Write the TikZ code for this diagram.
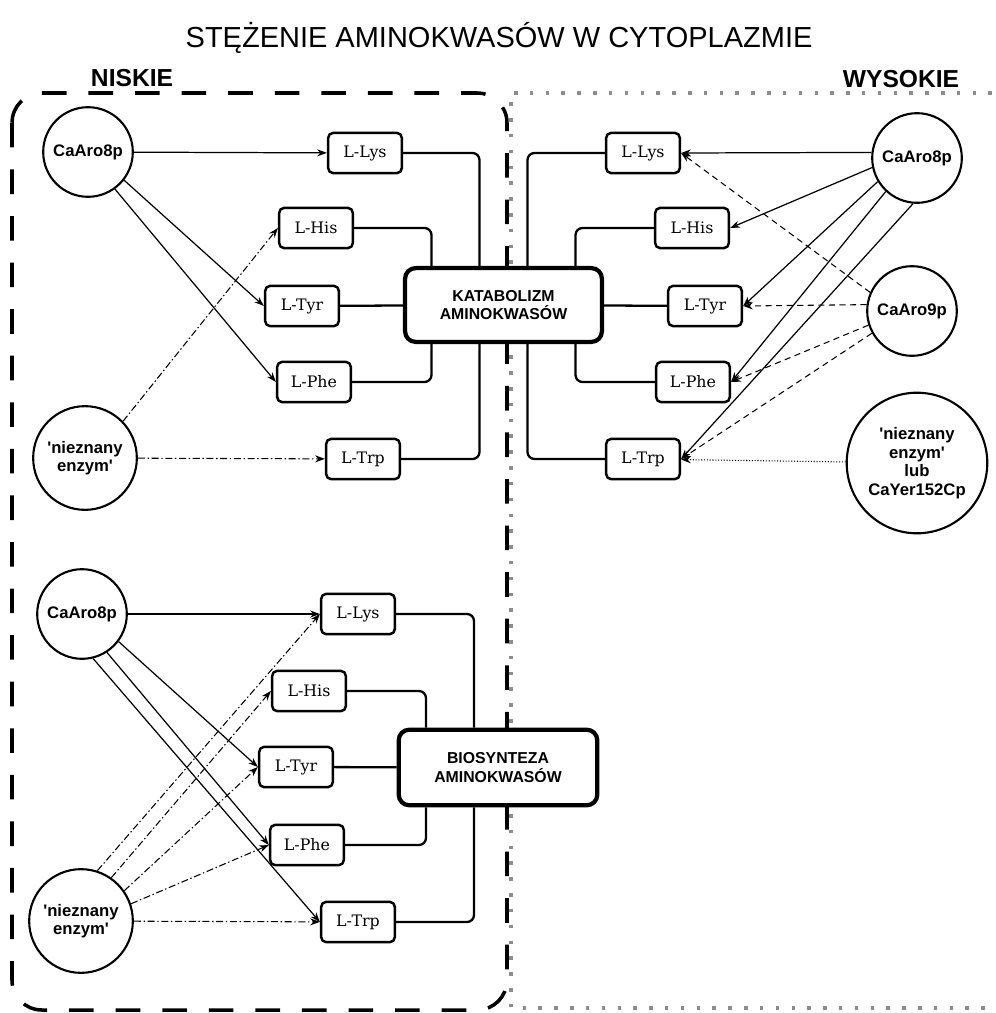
\documentclass[tikz,border=0pt]{standalone}
\usepackage{fontspec}
\setmainfont{Liberation Sans}
\newfontfamily\slabfont{DejaVu Serif}
\usepackage{tikz}
\usetikzlibrary{shapes,arrows,arrows.meta,positioning,calc}
\definecolor{dotgray}{RGB}{140,140,140}

\begin{document}
\begin{tikzpicture}[
  x=0.2mm, y=-0.2mm,
  acid/.style={rectangle, draw, fill=white, line width=1.4pt, rounded corners=3pt,
    minimum width=42pt, minimum height=23pt, inner sep=2pt,
    font=\slabfont\fontsize{9}{10}\selectfont},
  enzyme/.style={circle, draw, fill=white, line width=1.2pt, minimum size=51pt,
    inner sep=1pt, align=center, font=\bfseries\fontsize{9.5}{10.5}\selectfont},
  pathway/.style={rectangle, draw, fill=white, line width=2.4pt, rounded corners=6pt,
    minimum width=112pt, minimum height=42pt, align=center,
    font=\bfseries\fontsize{9}{10.5}\selectfont},
  link/.style={line width=1.3pt, rounded corners=4pt},
  arrow/.style={-{Stealth[length=5.5pt,width=4pt]}, line width=0.7pt},
  arrowdd/.style={arrow, line width=0.6pt, dash pattern=on 4pt off 1.5pt on 0.8pt off 1.5pt},
  arrowdash/.style={arrow, line width=0.6pt, dash pattern=on 3.5pt off 2.5pt},
  arrowdot/.style={arrow, line width=0.6pt, densely dotted},
  zonelabel/.style={font=\bfseries\fontsize{14}{16}\selectfont}
]
  \useasboundingbox (0,0) rectangle (996,1013);

  % Title and zones
  \node[font=\fontsize{16.5}{19}\selectfont] (title) at (499,38) {STĘŻENIE AMINOKWASÓW W CYTOPLAZMIE};
  \draw[dotgray, line width=2pt, dash pattern=on 2pt off 7pt]
    (992,93) -- (511,93) -- (511,1008) -- (992,1008);
  \draw[line width=2pt, dash pattern=on 14pt off 12.5pt, rounded corners=17pt]
    (12,93) rectangle (507,1010);
  \node[zonelabel] (low) at (132,78) {NISKIE};
  \node[zonelabel] (high) at (901,79) {WYSOKIE};

  % Catabolism (center)
  \node[pathway] (kat) at (503.5,305) {KATABOLIZM\\AMINOKWASÓW};

  % Low concentration -- catabolism
  \node[enzyme] (aro8a) at (88,152) {CaAro8p};
  \node[enzyme, minimum size=59pt] (unkA) at (85,458) {\textquotesingle nieznany\\enzym\textquotesingle};
  \node[acid] (lysA) at (365,153) {L-Lys};
  \node[acid] (hisA) at (316,228) {L-His};
  \node[acid] (tyrA) at (302,306) {L-Tyr};
  \node[acid] (pheA) at (314,382) {L-Phe};
  \node[acid] (trpA) at (363,459) {L-Trp};

  % High concentration -- catabolism
  \node[enzyme] (aro8b) at (917,158) {CaAro8p};
  \node[enzyme] (aro9) at (912,311) {CaAro9p};
  \node[enzyme, minimum size=80pt] (yer) at (917,463) {\textquotesingle nieznany\\enzym\textquotesingle\\lub\\CaYer152Cp};
  \node[acid] (lysB) at (643,153) {L-Lys};
  \node[acid] (hisB) at (692,228) {L-His};
  \node[acid] (tyrB) at (705,306) {L-Tyr};
  \node[acid] (pheB) at (693,382) {L-Phe};
  \node[acid] (trpB) at (643,459) {L-Trp};

  % Low concentration -- biosynthesis
  \node[pathway, minimum width=113pt, minimum height=43pt] (bio) at (498,767.5) {BIOSYNTEZA\\AMINOKWASÓW};
  \node[enzyme] (aro8c) at (82,614) {CaAro8p};
  \node[enzyme, minimum size=59pt] (unkC) at (81,921) {\textquotesingle nieznany\\enzym\textquotesingle};
  \node[acid] (lysC) at (358,614) {L-Lys};
  \node[acid] (hisC) at (309,691) {L-His};
  \node[acid] (tyrC) at (296,767) {L-Tyr};
  \node[acid] (pheC) at (307,845) {L-Phe};
  \node[acid] (trpC) at (358,922) {L-Trp};

  % Amino acids into pathways
  \draw[link] (lysA.east) -| ($(kat.north)+(-24,0)$);
  \draw[link] (hisA.east) -| ($(kat.north)+(-72,0)$);
  \draw[link] (tyrA) -- (kat);
  \draw[link] (pheA.east) -| ($(kat.south)+(-72,0)$);
  \draw[link] (trpA.east) -| ($(kat.south)+(-24,0)$);
  \draw[link] (lysB.west) -| ($(kat.north)+(24,0)$);
  \draw[link] (hisB.west) -| ($(kat.north)+(72,0)$);
  \draw[link] (tyrB) -- (kat);
  \draw[link] (pheB.west) -| ($(kat.south)+(72,0)$);
  \draw[link] (trpB.west) -| ($(kat.south)+(24,0)$);
  \draw[link] (lysC.east) -| ($(bio.north)+(-24,0)$);
  \draw[link] (hisC.east) -| ($(bio.north)+(-72,0)$);
  \draw[link] (tyrC) -- (bio);
  \draw[link] (pheC.east) -| ($(bio.south)+(-72,0)$);
  \draw[link] (trpC.east) -| ($(bio.south)+(-24,0)$);

  % Enzymes -- low, catabolism
  \draw[arrow] (aro8a) -- (lysA);
  \draw[arrow] (aro8a.-38) -- (tyrA.west);
  \draw[arrow] (aro8a.-54) -- (pheA.west);
  \draw[arrowdd] (unkA.44) -- (hisA.west);
  \draw[arrowdd] (unkA) -- (trpA);

  % Enzymes -- high, catabolism
  \draw[arrow] (aro8b.173) -- (lysB.east);
  \draw[arrow] (aro8b.192) -- (hisB.east);
  \draw[arrow] (aro8b.211) -- (tyrB.east);
  \draw[arrow] (aro8b.227) -- (pheB.east);
  \draw[arrow] (aro8b.265) -- (trpB.east);
  \draw[arrowdash] (aro9.156) -- (lysB.east);
  \draw[arrowdash] (aro9.172) -- (tyrB.east);
  \draw[arrowdash] (aro9.198) -- (pheB.east);
  \draw[arrowdash] (aro9.209) -- (trpB.east);
  \draw[arrowdot] (yer) -- (trpB);

  % Enzymes -- low, biosynthesis
  \draw[arrow] (aro8c) -- (lysC);
  \draw[arrow] (aro8c.-37) -- (tyrC.west);
  \draw[arrow] (aro8c.-57) -- (pheC.west);
  \draw[arrow] (aro8c.-76) -- (trpC.west);
  \draw[arrowdd] (unkC.72) -- (lysC.west);
  \draw[arrowdd] (unkC.55) -- (hisC.west);
  \draw[arrowdd] (unkC.35) -- (tyrC.west);
  \draw[arrowdd] (unkC.19) -- (pheC.west);
  \draw[arrowdd] (unkC) -- (trpC);
\end{tikzpicture}
\end{document}
